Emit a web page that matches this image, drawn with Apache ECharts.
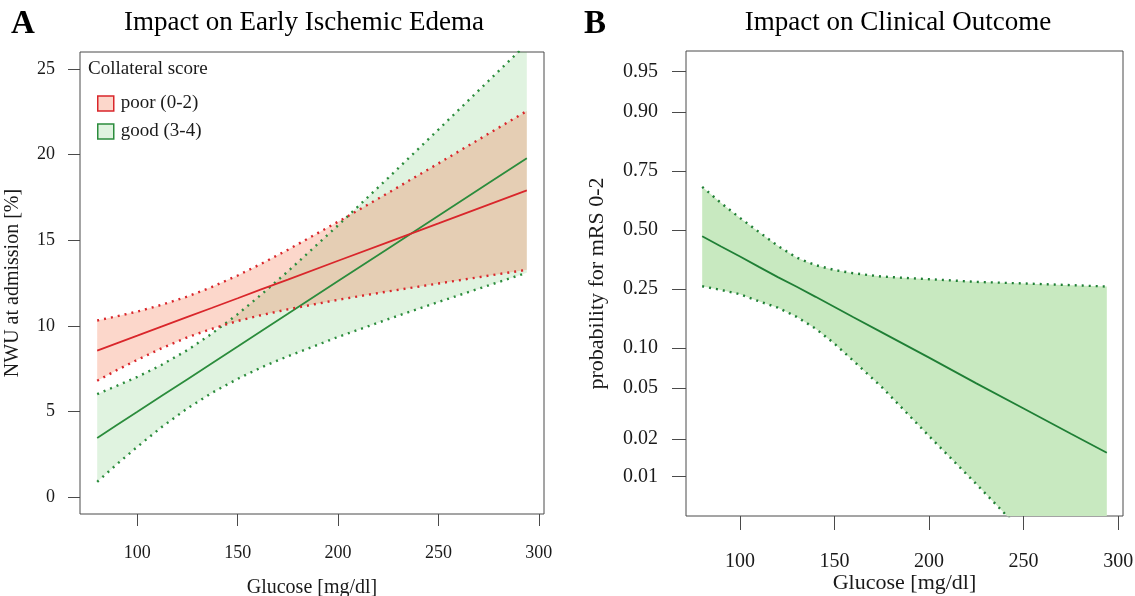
<!DOCTYPE html>
<html>
<head>
<meta charset="utf-8">
<script src="https://cdn.jsdelivr.net/npm/echarts@6/dist/echarts.min.js"></script>
<style>
  html, body { margin: 0; padding: 0; background: #fff; }
  #chart { width: 1135px; height: 596px; }
</style>
</head>
<body>
<div id="chart"></div>
<script>
'use strict';

// panel A - NWU at admission [%], fitted line + 95% band per collateral group
var glucoseA = [80, 90, 100, 112, 125, 137, 150, 162, 175, 200, 225, 250, 275, 294];
var poorFit = [8.55, 8.99, 9.42, 9.95, 10.52, 11.04, 11.61, 12.14, 12.70, 13.80, 14.89, 15.98, 17.08, 17.91];
var poorUpper = [10.31, 10.56, 10.83, 11.22, 11.71, 12.26, 12.94, 13.64, 14.44, 16.08, 17.77, 19.49, 21.23, 22.55];
var poorLower = [6.79, 7.42, 8.01, 8.68, 9.33, 9.82, 10.28, 10.63, 10.96, 11.52, 12.01, 12.47, 12.93, 13.27];
var goodFit = [3.44, 4.21, 4.97, 5.89, 6.88, 7.80, 8.79, 9.71, 10.70, 12.61, 14.52, 16.43, 18.34, 19.79];
var goodUpper = [6.00, 6.50, 7.01, 7.71, 8.58, 9.53, 10.68, 11.85, 13.18, 15.87, 18.65, 21.47, 24.32, 26.48];
var goodLower = [0.88, 1.93, 2.93, 4.07, 5.18, 6.07, 6.90, 7.58, 8.22, 9.35, 10.39, 11.39, 12.36, 13.10];

// panel B - probability for mRS 0-2 (drawn on a logit axis)
var glucoseB = [80, 90, 100, 110, 120, 130, 140, 150, 160, 175, 200, 225, 250, 275, 294];
var mrsFit = [0.470, 0.423, 0.378, 0.334, 0.293, 0.257, 0.223, 0.192, 0.164, 0.129, 0.0847, 0.0542, 0.0346, 0.0219, 0.0155];
var mrsUpper = [0.690, 0.622, 0.555, 0.490, 0.426, 0.373, 0.341, 0.321, 0.308, 0.295, 0.285, 0.275, 0.269, 0.263, 0.258];
var mrsLower = [0.259, 0.246, 0.2315, 0.209, 0.190, 0.165, 0.137, 0.107, 0.080, 0.0507, 0.021, 0.0087, 0.0035, 0.0014, 0.00072];

// tick labels
var glucoseTicks = [100, 150, 200, 250, 300];
var nwuTicks = [0, 5, 10, 15, 20, 25];
var probTicks = [0.01, 0.02, 0.05, 0.10, 0.25, 0.50, 0.75, 0.90, 0.95];

var serif = 'Liberation Serif';
var ink = '#1a1a1a';
var frame = '#4a4a4a';
var red = '#d9262b';
var redFill = 'rgba(245,110,70,0.28)';
var green = '#2b8c3c';
var greenFill = 'rgba(60,180,60,0.16)';
var greenB = '#1f7f35';
var greenFillB = '#c8e9c0';

function logit(p) { return Math.log(p / (1 - p)); }
function same(v) { return v; }

function pts(xs, ys, f) {
    return xs.map(function (x, i) { return [x, f(ys[i])]; });
}

// shaded confidence band: one polygon, upper edge then lower edge back
function band(name, grid, xs, lo, hi, fill, f) {
    return {
        type: 'custom', name: name, xAxisIndex: grid, yAxisIndex: grid,
        silent: true, clip: true,
        itemStyle: { color: fill },
        data: xs.map(function (x, i) { return [x, f(lo[i]), f(hi[i])]; }),
        encode: { x: 0, y: [1, 2] },
        renderItem: function (params, api) {
            if (params.dataIndex !== 0) return null;
            var top = [], bottom = [];
            for (var i = 0; i < xs.length; i++) {
                top.push(api.coord([xs[i], f(hi[i])]));
                bottom.unshift(api.coord([xs[i], f(lo[i])]));
            }
            return {
                type: 'polygon',
                shape: { points: top.concat(bottom) },
                style: { fill: fill, stroke: null }
            };
        }
    };
}

function curve(grid, xs, ys, color, dotted, f) {
    return {
        type: 'line', xAxisIndex: grid, yAxisIndex: grid,
        showSymbol: false, silent: true,
        lineStyle: { color: color, width: dotted ? 2.4 : 1.8, type: dotted ? [2, 5] : 'solid' },
        data: pts(xs, ys, f)
    };
}

function xAxis(grid, size, margin, tick, gap, nameSize) {
    return {
        type: 'value', gridIndex: grid, min: 71.44, max: 302.56,
        name: 'Glucose [mg/dl]', nameLocation: 'middle', nameGap: gap, nameMoveOverlap: false,
        nameTextStyle: { fontFamily: serif, fontSize: nameSize, color: ink },
        axisLine: { show: false, onZero: false },
        splitLine: { show: false },
        axisTick: { show: true, length: tick, customValues: glucoseTicks, lineStyle: { color: frame } },
        axisLabel: { customValues: glucoseTicks, margin: margin, fontFamily: serif, fontSize: size, color: ink }
    };
}

var series = [
    band('good (3-4)', 0, glucoseA, goodLower, goodUpper, greenFill, same),
    curve(0, glucoseA, goodUpper, green, true, same),
    curve(0, glucoseA, goodLower, green, true, same),
    curve(0, glucoseA, goodFit, green, false, same),
    band('poor (0-2)', 0, glucoseA, poorLower, poorUpper, redFill, same),
    curve(0, glucoseA, poorUpper, red, true, same),
    curve(0, glucoseA, poorLower, red, true, same),
    curve(0, glucoseA, poorFit, red, false, same),
    band('mRS 0-2', 1, glucoseB, mrsLower, mrsUpper, greenFillB, logit),
    curve(1, glucoseB, mrsUpper, greenB, true, logit),
    curve(1, glucoseB, mrsLower, greenB, true, logit),
    curve(1, glucoseB, mrsFit, greenB, false, logit)
];

var option = {
    animation: false,
    backgroundColor: '#fff',
    title: [
        { text: 'A', left: 11, top: 8, padding: 0, textStyle: { fontFamily: serif, fontSize: 33, fontWeight: 'bold', color: '#000' } },
        { text: 'Impact on Early Ischemic Edema', left: 304, top: 9, padding: 0, textAlign: 'center',
          textStyle: { fontFamily: serif, fontSize: 27, fontWeight: 'normal', color: '#000' } },
        { text: 'B', left: 584, top: 8, padding: 0, textStyle: { fontFamily: serif, fontSize: 33, fontWeight: 'bold', color: '#000' } },
        { text: 'Impact on Clinical Outcome', left: 898, top: 9, padding: 0, textAlign: 'center',
          textStyle: { fontFamily: serif, fontSize: 27, fontWeight: 'normal', color: '#000' } },
        { text: 'Collateral score', left: 88, top: 60, padding: 0,
          textStyle: { fontFamily: serif, fontSize: 19, fontWeight: 'normal', color: ink } }
    ],
    legend: {
        left: 92, top: 89, orient: 'vertical', itemWidth: 16, itemHeight: 15, itemGap: 9,
        selectedMode: false, icon: 'rect',
        textStyle: { fontFamily: serif, fontSize: 19, color: ink, padding: [0, 0, 0, 2] },
        data: [
            { name: 'poor (0-2)', itemStyle: { color: redFill, borderColor: red, borderWidth: 1.5 } },
            { name: 'good (3-4)', itemStyle: { color: greenFill, borderColor: green, borderWidth: 1.5 } }
        ]
    },
    grid: [
        { left: 80, top: 52, width: 464, height: 462, show: true, borderColor: frame, borderWidth: 1,
          outerBoundsMode: 'none', containLabel: false },
        { left: 686, top: 51, width: 437, height: 465, show: true, borderColor: frame, borderWidth: 1,
          outerBoundsMode: 'none', containLabel: false }
    ],
    xAxis: [
        xAxis(0, 18, 30, 12, 64, 20),
        xAxis(1, 20, 36, 14, 56, 22)
    ],
    yAxis: [{
        type: 'value', gridIndex: 0, min: -1, max: 26,
        name: 'NWU at admission [%]', nameLocation: 'middle', nameGap: 57,
        nameTextStyle: { fontFamily: serif, fontSize: 20, color: ink },
        axisLine: { show: false, onZero: false },
        splitLine: { show: false },
        axisTick: { show: true, length: 12, customValues: nwuTicks, lineStyle: { color: frame } },
        axisLabel: { customValues: nwuTicks, margin: 25, fontFamily: serif, fontSize: 18, color: ink }
    }, {
        type: 'value', gridIndex: 1, min: -5.33, max: 3.33,
        name: 'probability for mRS 0-2', nameLocation: 'middle', nameGap: 78,
        nameTextStyle: { fontFamily: serif, fontSize: 22, color: ink },
        axisLine: { show: false, onZero: false },
        splitLine: { show: false },
        axisTick: { show: true, length: 14, customValues: probTicks.map(logit), lineStyle: { color: frame } },
        axisLabel: {
            customValues: probTicks.map(logit), margin: 28, fontFamily: serif, fontSize: 20, color: ink,
            formatter: function (v) { return (1 / (1 + Math.exp(-v))).toFixed(2); }
        }
    }],
    series: series
};

var myChart = echarts.init(document.getElementById('chart'));
myChart.setOption(option);
</script>
</body>
</html>
